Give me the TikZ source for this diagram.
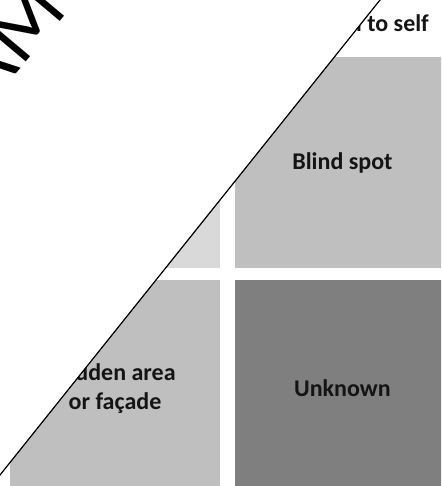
\documentclass[tikz,border=0pt]{standalone}
\usepackage{fontspec}
\setmainfont{Carlito}
\newfontfamily\stampfont{Lato}
\usetikzlibrary{positioning}
\definecolor{paneLight}{HTML}{D9D9D9}
\definecolor{paneMid}{HTML}{BFBFBF}
\definecolor{paneDark}{HTML}{7F7F7F}
\definecolor{inkBlack}{HTML}{141414}
\tikzset{
    pane/.style={draw=none,inner sep=0pt,minimum width=214pt,minimum height=211pt,
        align=center,text=inkBlack,font=\fontsize{24}{29}\selectfont\bfseries},
    heading/.style={inner sep=0pt,text=inkBlack,font=\fontsize{24}{29}\selectfont\bfseries},
    cutline/.style={draw=black,line width=1.2pt},
    wmark/.style={inner sep=0pt,rotate=50,text=black,font=\stampfont\fontsize{80}{96}\selectfont}
}
\begin{document}
\begin{tikzpicture}[x=1pt,y=-1pt]
    \useasboundingbox (0,0) rectangle (441,486);
    \clip (0,0) rectangle (441,486);
    % the four panes
    \node[pane,fill=paneLight,minimum width=210pt] (open) at (115,162.5) {};
    \node[pane,fill=paneMid] (blind) [right=15pt of open] {Blind spot};
    \node[pane,fill=paneMid,minimum width=210pt,minimum height=216pt] (hidden) [below=12pt of open] {Hidden area\\or façade};
    \node[pane,fill=paneDark,minimum height=216pt] (unknown) [below=12pt of blind] {Unknown};
    \node[heading,anchor=base east] (known) at (429,32) {Known to self};
    % diagonal cut
    \coordinate (cutA) at (396,-20);
    \coordinate (cutB) at (-20,500);
    \fill[white] (cutA) -- (cutB) -- (-20,-20) -- cycle;
    \draw[cutline] (cutA) -- (cutB);
    % watermark
    \coordinate (stampP) at (21,68);
    \node[wmark,anchor=base east] (stampL) at (stampP) {A};
    \node[wmark,anchor=base west] (stampR) at (stampP) {M};
\end{tikzpicture}
\end{document}
